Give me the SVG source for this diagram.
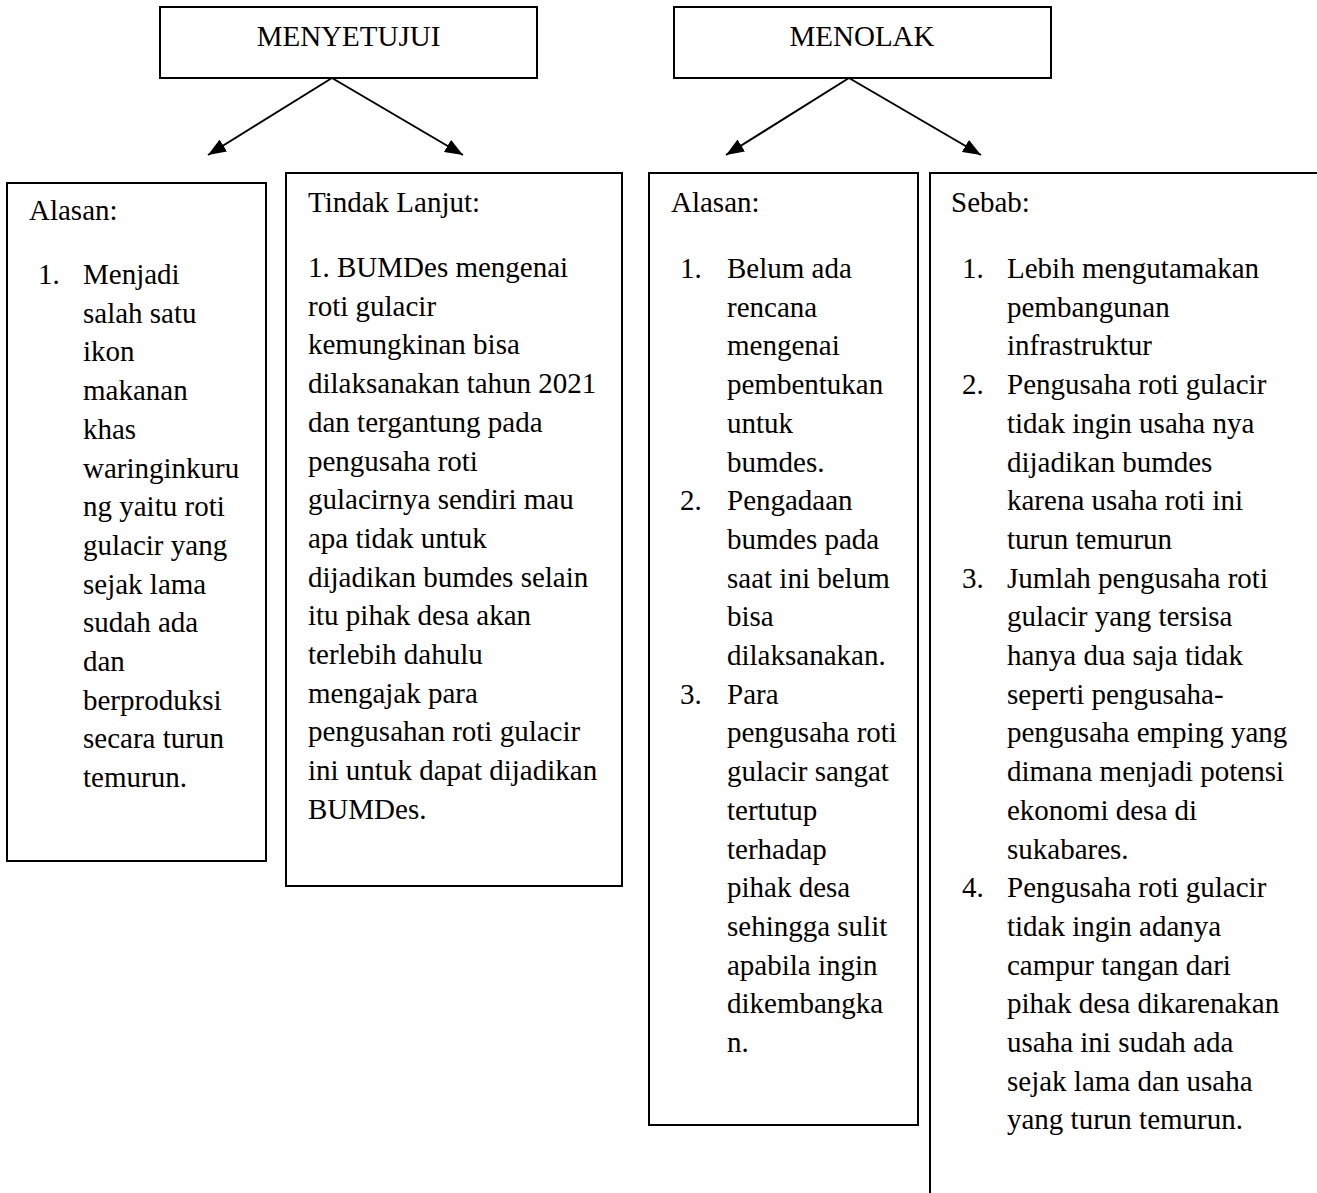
<svg xmlns="http://www.w3.org/2000/svg" width="1317" height="1193" viewBox="0 0 1317 1193">
<style>
  .box { fill: #ffffff; stroke: #000000; stroke-width: 2; }
  .edge { fill: none; stroke: #000000; stroke-width: 2; }
  .conn { fill: none; stroke: #000000; stroke-width: 2; }
  text { font-family: "Liberation Serif", "Times New Roman", serif; font-size: 29px; fill: #000000; }
  .title { text-anchor: middle; }
</style>
<defs>
  <marker id="arrow" viewBox="0 0 18 14" refX="18" refY="7" markerWidth="18" markerHeight="14" markerUnits="userSpaceOnUse" orient="auto">
    <path d="M0,0 L18,7 L0,14 z" fill="#000000"/>
  </marker>
</defs>
<rect width="1317" height="1193" fill="#ffffff"/>

<g id="menyetujui">
  <rect class="box" x="160" y="7" width="377" height="71"/>
  <text class="title" x="348.5" y="46">MENYETUJUI</text>
</g>

<g id="menolak">
  <rect class="box" x="674" y="7" width="377" height="71"/>
  <text class="title" x="862" y="46">MENOLAK</text>
</g>

<g id="connectors">
  <line class="conn" x1="332" y1="78" x2="208" y2="155" marker-end="url(#arrow)"/>
  <line class="conn" x1="332" y1="78" x2="463" y2="155" marker-end="url(#arrow)"/>
  <line class="conn" x1="849" y1="78" x2="726" y2="155" marker-end="url(#arrow)"/>
  <line class="conn" x1="849" y1="78" x2="981" y2="155" marker-end="url(#arrow)"/>
</g>

<g id="alasan-setuju">
  <rect class="box" x="7" y="183" width="259" height="678"/>
  <text x="29" y="220">Alasan:</text>
  <text x="38" y="284">1.</text>
  <text x="83" y="284">Menjadi</text>
  <text x="83" y="322.7">salah satu</text>
  <text x="83" y="361.4">ikon</text>
  <text x="83" y="400.1">makanan</text>
  <text x="83" y="438.8">khas</text>
  <text x="83" y="477.5">waringinkuru</text>
  <text x="83" y="516.2">ng yaitu roti</text>
  <text x="83" y="554.9">gulacir yang</text>
  <text x="83" y="593.6">sejak lama</text>
  <text x="83" y="632.3">sudah ada</text>
  <text x="83" y="671">dan</text>
  <text x="83" y="709.7">berproduksi</text>
  <text x="83" y="748.4">secara turun</text>
  <text x="83" y="787.1">temurun.</text>
</g>

<g id="tindak-lanjut">
  <rect class="box" x="286" y="173" width="336" height="713"/>
  <text x="308" y="212">Tindak Lanjut:</text>
  <text x="308" y="277">1. BUMDes mengenai</text>
  <text x="308" y="315.7">roti gulacir</text>
  <text x="308" y="354.4">kemungkinan bisa</text>
  <text x="308" y="393.1">dilaksanakan tahun 2021</text>
  <text x="308" y="431.8">dan tergantung pada</text>
  <text x="308" y="470.5">pengusaha roti</text>
  <text x="308" y="509.2">gulacirnya sendiri mau</text>
  <text x="308" y="547.9">apa tidak untuk</text>
  <text x="308" y="586.6">dijadikan bumdes selain</text>
  <text x="308" y="625.3">itu pihak desa akan</text>
  <text x="308" y="664">terlebih dahulu</text>
  <text x="308" y="702.7">mengajak para</text>
  <text x="308" y="741.4">pengusahan roti gulacir</text>
  <text x="308" y="780.1">ini untuk dapat dijadikan</text>
  <text x="308" y="818.8">BUMDes.</text>
</g>

<g id="alasan-tolak">
  <rect class="box" x="649" y="173" width="269" height="952"/>
  <text x="671" y="212">Alasan:</text>
  <text x="680" y="278">1.</text>
  <text x="727" y="278">Belum ada</text>
  <text x="727" y="316.7">rencana</text>
  <text x="727" y="355.4">mengenai</text>
  <text x="727" y="394.1">pembentukan</text>
  <text x="727" y="432.8">untuk</text>
  <text x="727" y="471.5">bumdes.</text>
  <text x="680" y="510.2">2.</text>
  <text x="727" y="510.2">Pengadaan</text>
  <text x="727" y="548.9">bumdes pada</text>
  <text x="727" y="587.6">saat ini belum</text>
  <text x="727" y="626.3">bisa</text>
  <text x="727" y="665">dilaksanakan.</text>
  <text x="680" y="703.7">3.</text>
  <text x="727" y="703.7">Para</text>
  <text x="727" y="742.4">pengusaha roti</text>
  <text x="727" y="781.1">gulacir sangat</text>
  <text x="727" y="819.8">tertutup</text>
  <text x="727" y="858.5">terhadap</text>
  <text x="727" y="897.2">pihak desa</text>
  <text x="727" y="935.9">sehingga sulit</text>
  <text x="727" y="974.6">apabila ingin</text>
  <text x="727" y="1013.3">dikembangka</text>
  <text x="727" y="1052">n.</text>
</g>

<g id="sebab">
  <path class="edge" d="M930,1193 L930,173 L1317,173"/>
  <text x="951" y="212">Sebab:</text>
  <text x="962" y="278">1.</text>
  <text x="1007" y="278">Lebih mengutamakan</text>
  <text x="1007" y="316.7">pembangunan</text>
  <text x="1007" y="355.4">infrastruktur</text>
  <text x="962" y="394.1">2.</text>
  <text x="1007" y="394.1">Pengusaha roti gulacir</text>
  <text x="1007" y="432.8">tidak ingin usaha nya</text>
  <text x="1007" y="471.5">dijadikan bumdes</text>
  <text x="1007" y="510.2">karena usaha roti ini</text>
  <text x="1007" y="548.9">turun temurun</text>
  <text x="962" y="587.6">3.</text>
  <text x="1007" y="587.6">Jumlah pengusaha roti</text>
  <text x="1007" y="626.3">gulacir yang tersisa</text>
  <text x="1007" y="665">hanya dua saja tidak</text>
  <text x="1007" y="703.7">seperti pengusaha-</text>
  <text x="1007" y="742.4">pengusaha emping yang</text>
  <text x="1007" y="781.1">dimana menjadi potensi</text>
  <text x="1007" y="819.8">ekonomi desa di</text>
  <text x="1007" y="858.5">sukabares.</text>
  <text x="962" y="897.2">4.</text>
  <text x="1007" y="897.2">Pengusaha roti gulacir</text>
  <text x="1007" y="935.9">tidak ingin adanya</text>
  <text x="1007" y="974.6">campur tangan dari</text>
  <text x="1007" y="1013.3">pihak desa dikarenakan</text>
  <text x="1007" y="1052">usaha ini sudah ada</text>
  <text x="1007" y="1090.7">sejak lama dan usaha</text>
  <text x="1007" y="1129.4">yang turun temurun.</text>
</g>
</svg>
